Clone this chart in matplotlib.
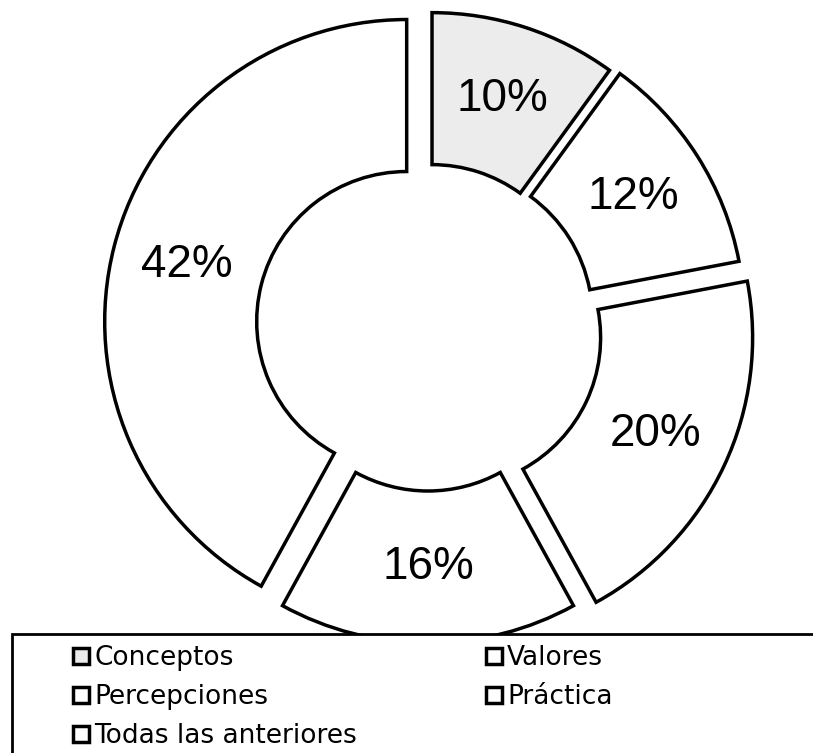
import matplotlib
matplotlib.use("Agg")
import matplotlib.pyplot as plt
from matplotlib.patches import Rectangle

# datos del anillo, en el orden en que se recorre desde arriba (sentido horario)
categorias = ["Conceptos", "Valores", "Percepciones", "Práctica", "Todas las anteriores"]
porcentajes = [10, 12, 20, 16, 42]

colores = ["#ececec", "white", "white", "white", "white"]
separacion = [13, 17, 25, 14, 22]  # desplazamiento de cada porción, en px

W, H = 813, 753
fig = plt.figure(figsize=(W / 100, H / 100), dpi=100)
ax = fig.add_axes([0, 0, 1, 1])

wedges, texts, autotexts = ax.pie(
    porcentajes, explode=separacion, colors=colores,
    center=(428, H - 327), radius=302,
    startangle=90, counterclock=False,
    autopct="%1.0f%%", pctdistance=0.75,
    wedgeprops=dict(width=152, edgecolor="black", linewidth=2.5, joinstyle="miter"),
    textprops=dict(fontsize=33, family="Liberation Sans"),
)
ax.set_xlim(0, W)
ax.set_ylim(0, H)
ax.axis("off")

# caja de la leyenda (se sale por la derecha y por abajo)
ax.add_patch(Rectangle((12, -10), W, H - 634 + 10, facecolor="white",
                       edgecolor="black", linewidth=2.0, zorder=4, clip_on=False))

orden = [0, 2, 4, 1, 3]
ley = ax.legend([wedges[i] for i in orden], [categorias[i] for i in orden],
                ncol=2, loc="upper left", bbox_to_anchor=(73, H - 645),
                bbox_transform=ax.transData, frameon=False,
                borderpad=0, borderaxespad=0,
                handlelength=0.6, handleheight=0.55, handletextpad=0.2,
                labelspacing=0.5, columnspacing=4.9,
                prop=dict(family="DejaVu Sans", size=19))
ley.set_zorder(5)

fig.savefig("out.png", dpi=100)
